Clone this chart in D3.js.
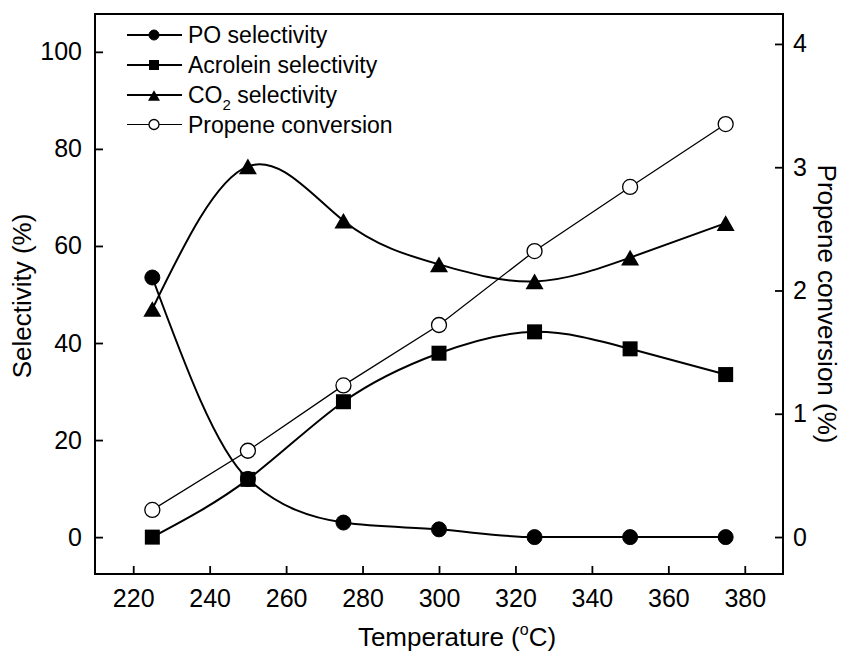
<!DOCTYPE html>
<html>
<head>
<meta charset="utf-8">
<script src="https://cdn.jsdelivr.net/npm/d3@7"></script>
<style>
  html, body { margin: 0; padding: 0; background: #fff; }
  text { font-family: "Liberation Sans", Arial, sans-serif; fill: #000; }
</style>
</head>
<body>
<svg id="chart" width="852" height="651"></svg>
<script>
// Reaction temperature (°C)
const temps = [225, 250, 275, 300, 325, 350, 375];
// Selectivities (%), left axis
const poSel = [53.5, 12.0, 3.0, 1.6, 0.0, 0.0, 0.0];
const acroleinSel = [0.0, 11.9, 27.9, 37.9, 42.3, 38.8, 33.5];
const co2Sel = [47.0, 76.4, 65.2, 56.2, 52.7, 57.6, 64.7];
// Propene conversion (%), right axis
const propeneConv = [0.22, 0.70, 1.23, 1.72, 2.32, 2.84, 3.35];

const xTicks = [220, 240, 260, 280, 300, 320, 340, 360, 380];
const leftTicks = [0, 20, 40, 60, 80, 100];
const rightTicks = [0, 1, 2, 3, 4];

const svg = d3.select("#chart");
svg.append("rect").attr("width", 852).attr("height", 651).attr("fill", "#fff");

const L = 95, R = 783, T = 14, B = 574;
const x = d3.scaleLinear().domain([210, 390]).range([L, R]);
const yL = d3.scaleLinear().domain([-7.6, 107.8]).range([B, T]);
const yR = d3.scaleLinear().domain([-0.30, 4.243]).range([B, T]);

// Axes with inward ticks
const fs = "25px";
const gx = svg.append("g").attr("transform", `translate(0,${B})`)
  .call(d3.axisBottom(x).tickValues(xTicks).tickSize(-8).tickPadding(15));
const gl = svg.append("g").attr("transform", `translate(${L},0)`)
  .call(d3.axisLeft(yL).tickValues(leftTicks).tickSize(-8).tickPadding(13));
const gr = svg.append("g").attr("transform", `translate(${R},0)`)
  .call(d3.axisRight(yR).tickValues(rightTicks).tickFormat(d3.format("d"))
    .tickSize(-8).tickPadding(10));
[gx, gl, gr].forEach(g => {
  g.select(".domain").remove();
  g.selectAll(".tick line").attr("stroke", "#000").attr("stroke-width", 1.8);
  g.selectAll(".tick text").attr("font-size", fs)
    .attr("font-family", "Liberation Sans, Arial, sans-serif").attr("fill", "#000");
});

// Frame
svg.append("rect").attr("x", L).attr("y", T).attr("width", R - L).attr("height", B - T)
  .attr("fill", "none").attr("stroke", "#000").attr("stroke-width", 2);

// Curves
const smooth = (ys, yScale, curve) => d3.line()
  .x((d, i) => x(temps[i])).y(d => yScale(d)).curve(curve)(ys);

const plot = svg.append("g");
plot.append("path").attr("d", smooth(propeneConv, yR, d3.curveLinear))
  .attr("fill", "none").attr("stroke", "#000").attr("stroke-width", 1.3);
plot.append("path").attr("d", smooth(acroleinSel, yL, d3.curveNatural))
  .attr("fill", "none").attr("stroke", "#000").attr("stroke-width", 2);
plot.append("path").attr("d", smooth(co2Sel, yL, d3.curveNatural))
  .attr("fill", "none").attr("stroke", "#000").attr("stroke-width", 2);
plot.append("path").attr("d", smooth(poSel, yL, d3.curveMonotoneX))
  .attr("fill", "none").attr("stroke", "#000").attr("stroke-width", 2);

// Marker shapes
function circleMark(g, cx, cy, r, filled) {
  g.append("circle").attr("cx", cx).attr("cy", cy).attr("r", r)
    .attr("fill", filled ? "#000" : "#fff").attr("stroke", "#000")
    .attr("stroke-width", filled ? 1 : 1.3);
}
function squareMark(g, cx, cy, s) {
  g.append("rect").attr("x", cx - s / 2).attr("y", cy - s / 2)
    .attr("width", s).attr("height", s).attr("fill", "#000");
}
function triMark(g, cx, cy, w) {
  const h = w * 0.87;
  g.append("path")
    .attr("d", `M${cx},${cy - h / 2}L${cx + w / 2},${cy + h / 2}L${cx - w / 2},${cy + h / 2}Z`)
    .attr("fill", "#000");
}

temps.forEach((t, i) => {
  circleMark(plot, x(t), yR(propeneConv[i]), 7.5, false);
  squareMark(plot, x(t), yL(acroleinSel[i]), 15);
  triMark(plot, x(t), yL(co2Sel[i]), 18);
  circleMark(plot, x(t), yL(poSel[i]), 7.5, true);
});

// Legend
const legend = svg.append("g");
const lx0 = 127, lx1 = 182, lm = 154, tx = 188;
const rows = [
  { y: 35, kind: "po", label: "PO selectivity" },
  { y: 65, kind: "acr", label: "Acrolein selectivity" },
  { y: 95, kind: "co2", label: "CO2 selectivity" },
  { y: 124.5, kind: "conv", label: "Propene conversion" }
];
rows.forEach(r => {
  legend.append("line").attr("x1", lx0).attr("x2", lx1).attr("y1", r.y).attr("y2", r.y)
    .attr("stroke", "#000").attr("stroke-width", r.kind === "conv" ? 1.2 : 2);
  if (r.kind === "po") circleMark(legend, lm, r.y, 5, true);
  if (r.kind === "acr") squareMark(legend, lm, r.y, 10);
  if (r.kind === "co2") triMark(legend, lm, r.y + 0.5, 12);
  if (r.kind === "conv") circleMark(legend, lm, r.y, 5, false);
  const t = legend.append("text").attr("x", tx).attr("y", r.y + 8).attr("font-size", "23px");
  if (r.kind === "co2") {
    t.append("tspan").text("CO");
    t.append("tspan").attr("font-size", "15px").attr("dy", 7).text("2");
    t.append("tspan").attr("dy", -7).text(" selectivity");
  } else {
    t.text(r.label);
  }
});

// Axis titles
const xt = svg.append("text").attr("x", 457).attr("y", 646)
  .attr("text-anchor", "middle").attr("font-size", "26px");
xt.append("tspan").text("Temperature (");
xt.append("tspan").attr("font-size", "16px").attr("dy", -11).text("o");
xt.append("tspan").attr("dy", 11).text("C)");

svg.append("text").attr("transform", "translate(31,296) rotate(-90)")
  .attr("text-anchor", "middle").attr("font-size", "26px").text("Selectivity (%)");
svg.append("text").attr("transform", "translate(818,304) rotate(90)")
  .attr("text-anchor", "middle").attr("font-size", "26px").text("Propene conversion (%)");
</script>
</body>
</html>
